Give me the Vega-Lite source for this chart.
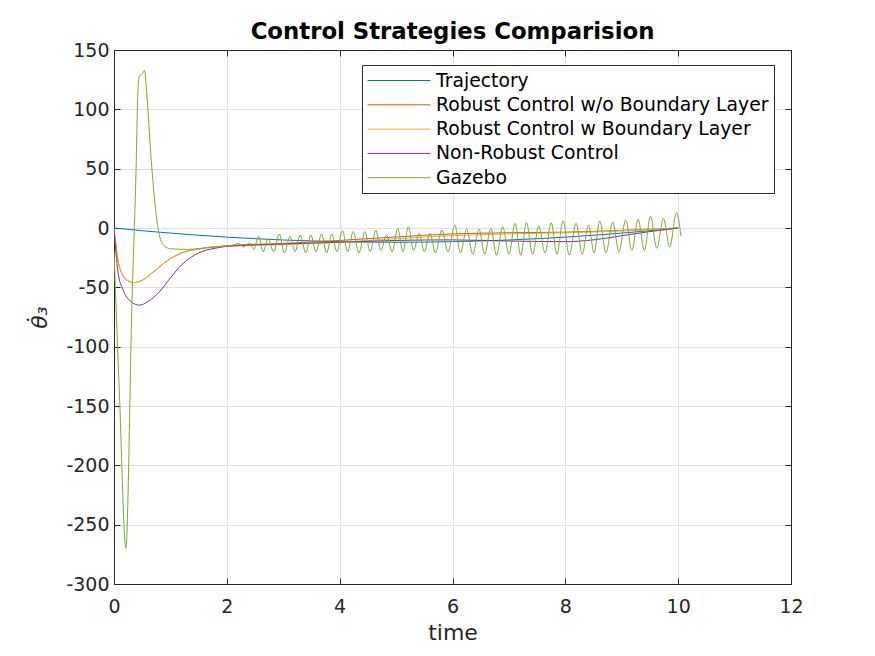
{
  "$schema": "https://vega.github.io/schema/vega-lite/v6.json",
  "width": 677,
  "height": 534,
  "autosize": {"type": "none"},
  "padding": {"left": 114, "top": 50, "right": 84, "bottom": 72},
  "background": "white",
  "config": {"font": "DejaVu Sans", "view": {"stroke": "#262626", "strokeWidth": 1}},
  "title": {"text": "Control Strategies Comparision", "fontSize": 22.8, "fontWeight": "bold", "color": "black", "anchor": "middle", "offset": -3},
  "data": {"values": [
    {"s": "Trajectory", "t": 0, "v": 0}, {"s": "Trajectory", "t": 0.5, "v": -2.3}, {"s": "Trajectory", "t": 1, "v": -4.3}, {"s": "Trajectory", "t": 1.5, "v": -6.1}, {"s": "Trajectory", "t": 2, "v": -7.7}, {"s": "Trajectory", "t": 2.5, "v": -9}, {"s": "Trajectory", "t": 3, "v": -10.1}, {"s": "Trajectory", "t": 3.5, "v": -10.9}, {"s": "Trajectory", "t": 4, "v": -11.5}, {"s": "Trajectory", "t": 4.5, "v": -11.9}, {"s": "Trajectory", "t": 5, "v": -12}, {"s": "Trajectory", "t": 5.5, "v": -11.9}, {"s": "Trajectory", "t": 6, "v": -11.5}, {"s": "Trajectory", "t": 6.5, "v": -10.9}, {"s": "Trajectory", "t": 7, "v": -10.1}, {"s": "Trajectory", "t": 7.5, "v": -9}, {"s": "Trajectory", "t": 8, "v": -7.7}, {"s": "Trajectory", "t": 8.5, "v": -6.1}, {"s": "Trajectory", "t": 9, "v": -4.3}, {"s": "Trajectory", "t": 9.5, "v": -2.3}, {"s": "Trajectory", "t": 10, "v": 0},

    {"s": "Robust Control w/o Boundary Layer", "t": 0, "v": 0}, {"s": "Robust Control w/o Boundary Layer", "t": 0.07, "v": -27}, {"s": "Robust Control w/o Boundary Layer", "t": 0.16, "v": -40}, {"s": "Robust Control w/o Boundary Layer", "t": 0.25, "v": -44.5}, {"s": "Robust Control w/o Boundary Layer", "t": 0.37, "v": -46}, {"s": "Robust Control w/o Boundary Layer", "t": 0.5, "v": -44}, {"s": "Robust Control w/o Boundary Layer", "t": 0.7, "v": -37}, {"s": "Robust Control w/o Boundary Layer", "t": 0.9, "v": -29}, {"s": "Robust Control w/o Boundary Layer", "t": 1.2, "v": -21}, {"s": "Robust Control w/o Boundary Layer", "t": 1.5, "v": -17.5}, {"s": "Robust Control w/o Boundary Layer", "t": 2, "v": -15}, {"s": "Robust Control w/o Boundary Layer", "t": 3, "v": -13}, {"s": "Robust Control w/o Boundary Layer", "t": 4, "v": -10.5}, {"s": "Robust Control w/o Boundary Layer", "t": 5, "v": -7.5}, {"s": "Robust Control w/o Boundary Layer", "t": 6, "v": -5}, {"s": "Robust Control w/o Boundary Layer", "t": 7, "v": -4}, {"s": "Robust Control w/o Boundary Layer", "t": 8, "v": -3.5}, {"s": "Robust Control w/o Boundary Layer", "t": 9, "v": -2}, {"s": "Robust Control w/o Boundary Layer", "t": 10, "v": 0},

    {"s": "Robust Control w Boundary Layer", "t": 0, "v": 0}, {"s": "Robust Control w Boundary Layer", "t": 0.07, "v": -27}, {"s": "Robust Control w Boundary Layer", "t": 0.16, "v": -40}, {"s": "Robust Control w Boundary Layer", "t": 0.25, "v": -44.5}, {"s": "Robust Control w Boundary Layer", "t": 0.37, "v": -46}, {"s": "Robust Control w Boundary Layer", "t": 0.5, "v": -44}, {"s": "Robust Control w Boundary Layer", "t": 0.7, "v": -37}, {"s": "Robust Control w Boundary Layer", "t": 0.9, "v": -29}, {"s": "Robust Control w Boundary Layer", "t": 1.2, "v": -21}, {"s": "Robust Control w Boundary Layer", "t": 1.5, "v": -17.8}, {"s": "Robust Control w Boundary Layer", "t": 2, "v": -15.2}, {"s": "Robust Control w Boundary Layer", "t": 3, "v": -14}, {"s": "Robust Control w Boundary Layer", "t": 4, "v": -12}, {"s": "Robust Control w Boundary Layer", "t": 5, "v": -9}, {"s": "Robust Control w Boundary Layer", "t": 6, "v": -6.5}, {"s": "Robust Control w Boundary Layer", "t": 7, "v": -5}, {"s": "Robust Control w Boundary Layer", "t": 8, "v": -4}, {"s": "Robust Control w Boundary Layer", "t": 9, "v": -2.5}, {"s": "Robust Control w Boundary Layer", "t": 10, "v": 0},

    {"s": "Non-Robust Control", "t": 0, "v": 0}, {"s": "Non-Robust Control", "t": 0.07, "v": -37}, {"s": "Non-Robust Control", "t": 0.16, "v": -52}, {"s": "Non-Robust Control", "t": 0.3, "v": -62}, {"s": "Non-Robust Control", "t": 0.45, "v": -65}, {"s": "Non-Robust Control", "t": 0.6, "v": -62}, {"s": "Non-Robust Control", "t": 0.8, "v": -54}, {"s": "Non-Robust Control", "t": 1.0, "v": -42}, {"s": "Non-Robust Control", "t": 1.2, "v": -31}, {"s": "Non-Robust Control", "t": 1.5, "v": -21}, {"s": "Non-Robust Control", "t": 1.8, "v": -17}, {"s": "Non-Robust Control", "t": 2, "v": -15.5}, {"s": "Non-Robust Control", "t": 3, "v": -13.5}, {"s": "Non-Robust Control", "t": 4, "v": -12}, {"s": "Non-Robust Control", "t": 5, "v": -10.5}, {"s": "Non-Robust Control", "t": 6, "v": -10}, {"s": "Non-Robust Control", "t": 7, "v": -11}, {"s": "Non-Robust Control", "t": 8, "v": -11.5}, {"s": "Non-Robust Control", "t": 8.5, "v": -10}, {"s": "Non-Robust Control", "t": 9, "v": -6.5}, {"s": "Non-Robust Control", "t": 9.5, "v": -3}, {"s": "Non-Robust Control", "t": 10, "v": 0},

    {"s": "Gazebo", "t": 0, "v": -20}, {"s": "Gazebo", "t": 0.1, "v": -145}, {"s": "Gazebo", "t": 0.21, "v": -270}, {"s": "Gazebo", "t": 0.32, "v": -60}, {"s": "Gazebo", "t": 0.395, "v": 57}, {"s": "Gazebo", "t": 0.42, "v": 110}, {"s": "Gazebo", "t": 0.45, "v": 128}, {"s": "Gazebo", "t": 0.5, "v": 130}, {"s": "Gazebo", "t": 0.54, "v": 133}, {"s": "Gazebo", "t": 0.58, "v": 114}, {"s": "Gazebo", "t": 0.66, "v": 57}, {"s": "Gazebo", "t": 0.78, "v": 0}, {"s": "Gazebo", "t": 0.87, "v": -14}, {"s": "Gazebo", "t": 1.0, "v": -17.5}, {"s": "Gazebo", "t": 1.3, "v": -18}, {"s": "Gazebo", "t": 1.6, "v": -17}, {"s": "Gazebo", "t": 1.9, "v": -15.5}, {"s": "Gazebo", "t": 2.1, "v": -14.5}, {"s": "Gazebo", "t": 2.2, "v": -13}, {"s": "Gazebo", "t": 2.3, "v": -16}, {"s": "Gazebo", "t": 2.4, "v": -12.5}, {"s": "Gazebo", "t": 2.48, "v": -18},
    {"s": "Gazebo", "t": 2.56, "v": -7}, {"s": "Gazebo", "t": 2.645, "v": -20}, {"s": "Gazebo", "t": 2.73, "v": -9}, {"s": "Gazebo", "t": 2.83, "v": -20}, {"s": "Gazebo", "t": 2.93, "v": -5}, {"s": "Gazebo", "t": 3.02, "v": -21}, {"s": "Gazebo", "t": 3.12, "v": -7}, {"s": "Gazebo", "t": 3.21, "v": -20}, {"s": "Gazebo", "t": 3.3, "v": -6}, {"s": "Gazebo", "t": 3.4, "v": -21}, {"s": "Gazebo", "t": 3.49, "v": -6}, {"s": "Gazebo", "t": 3.58, "v": -20}, {"s": "Gazebo", "t": 3.68, "v": -5}, {"s": "Gazebo", "t": 3.77, "v": -21}, {"s": "Gazebo", "t": 3.86, "v": -5}, {"s": "Gazebo", "t": 3.95, "v": -20}, {"s": "Gazebo", "t": 4.05, "v": -2}, {"s": "Gazebo", "t": 4.14, "v": -20}, {"s": "Gazebo", "t": 4.24, "v": -3}, {"s": "Gazebo", "t": 4.34, "v": -21}, {"s": "Gazebo", "t": 4.45, "v": -3}, {"s": "Gazebo", "t": 4.54, "v": -20}, {"s": "Gazebo", "t": 4.64, "v": -1.7}, {"s": "Gazebo", "t": 4.73, "v": -19}, {"s": "Gazebo", "t": 4.83, "v": -6}, {"s": "Gazebo", "t": 4.93, "v": -20}, {"s": "Gazebo", "t": 5.03, "v": -0.3}, {"s": "Gazebo", "t": 5.12, "v": -20}, {"s": "Gazebo", "t": 5.22, "v": 1}, {"s": "Gazebo", "t": 5.31, "v": -19}, {"s": "Gazebo", "t": 5.41, "v": -4.5}, {"s": "Gazebo", "t": 5.5, "v": -20}, {"s": "Gazebo", "t": 5.6, "v": -4.5}, {"s": "Gazebo", "t": 5.7, "v": -21}, {"s": "Gazebo", "t": 5.81, "v": -1.7}, {"s": "Gazebo", "t": 5.92, "v": -20}, {"s": "Gazebo", "t": 6.04, "v": 2.5}, {"s": "Gazebo", "t": 6.14, "v": -21}, {"s": "Gazebo", "t": 6.25, "v": -1}, {"s": "Gazebo", "t": 6.36, "v": -22}, {"s": "Gazebo", "t": 6.47, "v": -1}, {"s": "Gazebo", "t": 6.57, "v": -22}, {"s": "Gazebo", "t": 6.68, "v": -0.3}, {"s": "Gazebo", "t": 6.78, "v": -23}, {"s": "Gazebo", "t": 6.89, "v": 1}, {"s": "Gazebo", "t": 7.0, "v": -22}, {"s": "Gazebo", "t": 7.11, "v": 4}, {"s": "Gazebo", "t": 7.21, "v": -23}, {"s": "Gazebo", "t": 7.31, "v": 4.5}, {"s": "Gazebo", "t": 7.42, "v": -22}, {"s": "Gazebo", "t": 7.53, "v": 1.7}, {"s": "Gazebo", "t": 7.64, "v": -21}, {"s": "Gazebo", "t": 7.75, "v": 4.5}, {"s": "Gazebo", "t": 7.85, "v": -22}, {"s": "Gazebo", "t": 7.96, "v": 6}, {"s": "Gazebo", "t": 8.07, "v": -23}, {"s": "Gazebo", "t": 8.19, "v": 4}, {"s": "Gazebo", "t": 8.3, "v": -22}, {"s": "Gazebo", "t": 8.41, "v": 2.5}, {"s": "Gazebo", "t": 8.51, "v": -21}, {"s": "Gazebo", "t": 8.61, "v": 6}, {"s": "Gazebo", "t": 8.72, "v": -21}, {"s": "Gazebo", "t": 8.84, "v": 5}, {"s": "Gazebo", "t": 8.95, "v": -20}, {"s": "Gazebo", "t": 9.07, "v": 6.7}, {"s": "Gazebo", "t": 9.18, "v": -19}, {"s": "Gazebo", "t": 9.29, "v": 7.3}, {"s": "Gazebo", "t": 9.4, "v": -19}, {"s": "Gazebo", "t": 9.51, "v": 10}, {"s": "Gazebo", "t": 9.62, "v": -17}, {"s": "Gazebo", "t": 9.74, "v": 8}, {"s": "Gazebo", "t": 9.85, "v": -16}, {"s": "Gazebo", "t": 9.97, "v": 13}, {"s": "Gazebo", "t": 10.05, "v": -7}
  ]},
  "layer": [
    {
      "mark": {"type": "line", "interpolate": "monotone", "strokeWidth": 1, "clip": true},
      "encoding": {
        "x": {"field": "t", "type": "quantitative", "scale": {"domain": [0, 12], "nice": false, "zero": false},
          "axis": {"title": "time", "titleFontSize": 22, "titleFontWeight": "normal", "titleColor": "#262626", "titlePadding": 6,
            "values": [0, 2, 4, 6, 8, 10, 12], "labelFontSize": 19, "labelColor": "#262626", "labelFlush": false, "labelPadding": 19,
            "tickSize": -6, "tickColor": "#262626", "domainColor": "#262626", "gridColor": "#e0e0e0"}},
        "y": {"field": "v", "type": "quantitative", "scale": {"domain": [-300, 150], "nice": false, "zero": false},
          "axis": {"title": "θ̇₃", "titleFontSize": 22, "titleFontStyle": "italic", "titleFontWeight": "normal", "titleColor": "#262626", "titlePadding": 14,
            "values": [-300, -250, -200, -150, -100, -50, 0, 50, 100, 150], "labelExpr": "replace(datum.label, '−', '-')", "labelFontSize": 19, "labelColor": "#262626", "labelPadding": 11,
            "tickSize": -6, "tickColor": "#262626", "domainColor": "#262626", "gridColor": "#e0e0e0"}},
        "color": {"field": "s", "type": "nominal",
          "scale": {"domain": ["Trajectory", "Robust Control w/o Boundary Layer", "Robust Control w Boundary Layer", "Non-Robust Control", "Gazebo"],
                    "range": ["#0072BD", "#D95319", "#EDB120", "#7E2F8E", "#77AC30"]},
          "legend": {"orient": "none", "legendX": 248, "legendY": 15, "title": null,
            "symbolType": "M-1,0H5.3", "symbolSize": 400, "symbolStrokeWidth": 1, "symbolFillColor": "transparent",
            "labelFontSize": 18.8, "labelColor": "black", "labelOffset": 48, "labelLimit": 500, "rowPadding": 3.3,
            "padding": 5, "strokeColor": "#262626", "fillColor": "white"}}
      }
    },
    {
      "mark": {"type": "line", "opacity": 0},
      "encoding": {
        "x": {"field": "t", "type": "quantitative", "scale": {"domain": [0, 12], "nice": false, "zero": false},
          "axis": {"orient": "top", "title": null, "labels": false, "grid": false, "values": [0, 2, 4, 6, 8, 10, 12], "tickSize": -6, "tickColor": "#262626", "domainColor": "#262626"}},
        "y": {"field": "v", "type": "quantitative", "scale": {"domain": [-300, 150], "nice": false, "zero": false},
          "axis": {"orient": "right", "title": null, "labels": false, "grid": false, "values": [-300, -250, -200, -150, -100, -50, 0, 50, 100, 150], "tickSize": -6, "tickColor": "#262626", "domainColor": "#262626"}}
      }
    }
  ],
  "resolve": {"axis": {"x": "independent", "y": "independent"}}
}
